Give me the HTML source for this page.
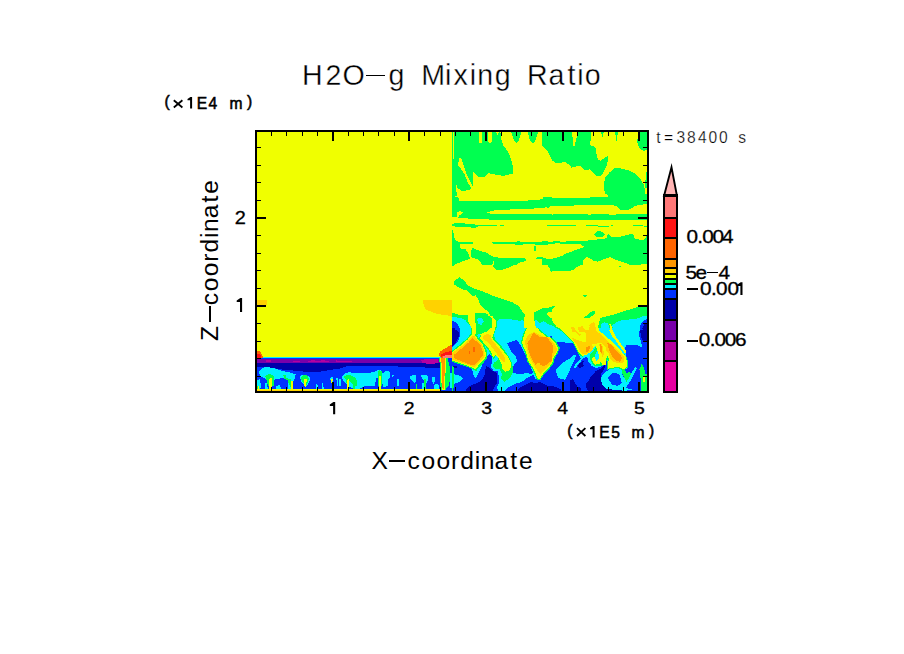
<!DOCTYPE html>
<html><head><meta charset="utf-8"><title>H2O-g Mixing Ratio</title>
<style>
html,body{margin:0;padding:0;background:#fff;}
body{width:904px;height:654px;overflow:hidden;font-family:"Liberation Sans",sans-serif;}
svg{display:block;}
text{font-family:"Liberation Sans",sans-serif;fill:#000;}
.t4{stroke:#fff;stroke-width:0.35px;}
.t2{stroke:#fff;stroke-width:0.25px;}
.b6{stroke:#000;stroke-width:0.55px;}
.b3{stroke:#000;stroke-width:0.3px;}
</style></head><body>
<svg width="904" height="654" viewBox="0 0 904 654">
<rect width="904" height="654" fill="#fff"/>
<g shape-rendering="crispEdges">
<clipPath id="cp"><rect x="256" y="131" width="392" height="261"/></clipPath>
<g clip-path="url(#cp)">
<rect x="256" y="131" width="392" height="261" fill="#F0FF00"/>
<polygon fill="#00FF50" points="452.4,132.0 478.5,132.0 478.5,142.4 480.2,143.5 482.2,143.0 482.5,132.0 487.7,132.0 487.7,141.8 489.7,143.0 491.7,141.8 492.0,132.0 496.3,132.0 496.9,134.9 498.1,135.5 498.6,132.0 500.4,132.0 501.2,138.9 503.2,145.3 507.8,151.6 510.7,157.9 513.0,167.1 513.0,173.5 505.5,175.4 502.1,175.8 495.8,174.6 488.3,173.1 484.8,176.6 478.5,176.6 473.3,172.3 473.5,188.4 465.3,190.7 461.2,190.7 457.2,187.8 454.9,177.5 453.2,177.5 452.4,177.5"/>
<polygon fill="#00FF50" points="511.1,132.0 521.6,132.0 519.9,137.2 518.2,141.8 516.5,143.0 514.7,141.8 513.0,137.8"/>
<polygon fill="#00FF50" points="528.0,132.0 538.3,132.0 536.6,137.2 534.9,141.8 532.9,143.0 530.9,141.8 529.1,137.8"/>
<polygon fill="#00FF50" points="452.4,173.1 454.9,173.1 456.3,182.1 456.6,195.9 452.4,197.0"/>
<polygon fill="#00FF50" points="541.8,132.0 552.0,132.0 552.0,157.9 550.4,155.6 548.1,151.0 542.4,146.4"/>
<polygon fill="#00FF50" points="548.0,132.0 591.2,132.0 590.6,140.7 589.4,144.1 591.7,146.4 594.0,146.4 595.8,148.7 596.3,153.3 598.1,160.2 600.9,160.8 605.5,156.8 607.8,156.2 607.8,161.4 606.1,167.1 603.2,172.9 599.8,176.3 596.9,176.3 593.5,172.9 590.0,169.4 587.1,170.0 584.8,170.6 582.5,167.7 580.8,166.0 575.6,166.6 571.6,167.7 569.3,164.8 565.3,162.3 561.8,162.5 554.9,162.5 552.0,160.2 549.7,155.6 548.0,151.6"/>
<polygon fill="#00FF50" points="601.2,132.0 603.8,132.0 602.1,138.9"/>
<polygon fill="#00FF50" points="615.0,132.0 618.2,132.0 616.5,140.7"/>
<polygon fill="#00FF50" points="638.9,132.0 647.0,132.0 647.0,149.9 643.5,151.0 640.1,148.7 637.8,145.3 637.2,140.7"/>
<polygon fill="#00FF50" points="645.8,171.7 647.0,171.7 647.0,187.8 645.2,187.8"/>
<polygon fill="#00FF50" points="614.2,168.3 620.5,168.3 628.6,170.3 635.5,174.0 640.1,178.6 643.5,184.4 644.7,189.0 645.2,198.0 647.0,199.3 647.0,201.6 607.8,201.6 607.8,194.7 605.5,193.6 604.2,190.1 604.2,182.1 605.0,178.1 609.0,172.9"/>
<polygon fill="#00FF50" points="452.4,195.0 454.9,196.7 458.9,197.9 458.9,200.5 475.6,200.8 509.0,201.1 537.8,200.2 543.5,198.5 552.0,196.7 552.0,205.9 542.4,208.2 526.3,208.8 511.3,209.4 494.0,210.5 486.0,212.3 491.7,214.0 552.0,214.0 552.0,219.7 489.4,219.7 488.9,218.6 468.7,218.6 463.0,218.0 457.2,217.4 452.4,217.4"/>
<polygon fill="#00FF50" points="452.4,223.8 456.1,223.0 463.0,223.2 471.0,224.3 478.5,224.7 496.9,225.1 496.9,225.8 478.5,226.3 475.6,227.5 471.0,227.5 459.5,227.2 456.1,227.2 452.4,225.5"/>
<polygon fill="#00FF50" points="500.4,225.1 503.8,225.1 503.8,225.8 500.4,225.8"/>
<polygon fill="#00FF50" points="547.0,225.1 552.0,225.1 552.0,225.8 547.0,225.8"/>
<polygon fill="#00FF50" points="452.4,230.1 453.2,230.1 454.0,237.0 456.1,240.5 458.9,242.4 472.7,242.4 472.7,243.9 459.5,244.3 459.5,247.4 462.4,249.3 465.3,249.1 468.1,252.5 469.9,257.7 471.6,258.1 461.8,261.5 454.9,264.6 452.4,265.0"/>
<polygon fill="#00FF50" points="472.7,247.9 477.9,250.2 486.0,252.5 494.0,257.1 505.5,258.3 517.0,258.1 525.1,257.7 526.3,260.6 519.3,262.9 515.9,265.0 495.2,265.0 493.5,261.2 492.3,265.0 482.5,265.0 480.2,261.7 477.9,259.4 471.6,257.7 471.0,251.4"/>
<polygon fill="#00FF50" points="491.2,242.2 515.9,242.2 518.2,241.0 520.5,241.6 540.1,242.0 543.5,241.0 552.0,242.0 552.0,244.5 540.1,244.7 528.6,244.3 517.0,244.7 514.7,244.5 494.0,243.9"/>
<polygon fill="#00FF50" points="533.7,245.6 535.5,245.6 535.5,251.4 533.7,251.4"/>
<polygon fill="#00FF50" points="535.5,257.7 540.1,257.1 542.4,257.1 543.5,258.3 552.0,258.9 552.0,265.0 542.4,265.0 541.8,258.9 535.5,258.9"/>
<polygon fill="#00FF50" points="548.0,197.5 574.5,197.9 598.6,197.3 607.8,196.7 607.8,194.1 647.0,194.1 647.0,204.2 640.1,204.8 635.5,205.9 629.7,209.4 622.8,210.5 619.3,209.4 617.0,206.5 612.4,204.8 603.2,204.8 586.0,205.1 571.0,205.6 563.0,205.6 550.3,206.5 548.0,207.9 543.4,206.5 543.4,197.1"/>
<polygon fill="#00FF50" points="548.0,214.0 552.6,214.8 553.8,214.0 586.0,214.0 588.3,214.6 605.5,214.0 610.1,214.6 647.0,214.0 647.0,219.7 548.0,219.7"/>
<polygon fill="#00FF50" points="548.0,225.1 575.6,225.1 575.6,225.8 548.0,225.8"/>
<polygon fill="#00FF50" points="586.0,225.1 597.5,225.3 598.6,226.1 607.8,226.1 613.0,225.1 613.0,225.8 607.8,226.8 598.6,226.8 597.5,226.0 586.0,225.8"/>
<polygon fill="#00FF50" points="633.2,225.1 642.4,225.3 647.0,226.3 647.0,227.2 642.4,226.1 633.2,225.8"/>
<polygon fill="#00FF50" points="594.0,234.1 596.3,231.8 599.8,230.9 603.2,232.4 605.0,234.7 603.2,236.7 598.6,237.0 595.2,236.2"/>
<polygon fill="#00FF50" points="548.0,242.2 554.9,241.3 563.0,241.6 584.8,241.0 591.7,239.9 603.2,239.1 606.7,238.2 606.9,235.3 609.0,234.1 610.7,236.4 614.7,237.3 619.3,237.0 626.3,235.3 630.9,233.9 633.7,234.7 634.3,238.2 637.8,239.3 643.5,240.5 645.8,237.6 647.0,233.0 647.0,265.0 548.0,265.0"/>
<polygon fill="#00FF50" points="452.4,262.0 459.5,262.0 454.9,264.3 452.4,266.6"/>
<polygon fill="#00FF50" points="492.9,266.6 494.0,263.2 495.2,262.0 521.6,262.0 514.7,264.3 510.1,267.2 503.2,269.5 496.3,269.5"/>
<polygon fill="#00FF50" points="542.4,262.0 552.0,262.0 552.0,271.8 550.4,271.2 550.4,266.6 547.0,264.3"/>
<polygon fill="#00FF50" points="459.5,277.0 454.3,281.0 454.3,284.4 458.4,287.3 463.0,289.6 467.0,290.2 471.0,294.8 472.7,296.5 475.6,295.4 477.9,298.8 480.8,305.7 484.8,309.2 488.9,312.1 490.6,316.1 489.4,321.8 487.7,326.4 487.7,332.0 524.5,332.0 523.9,319.5 525.1,314.9 521.6,310.3 518.2,305.7 512.4,302.3 502.1,298.8 495.2,296.5 490.6,294.8 482.5,291.3 475.6,289.0 469.9,286.7 467.0,284.4 465.3,282.1 462.4,279.3"/>
<polygon fill="#00FF50" points="534.3,312.6 538.9,310.3 543.5,308.0 552.0,308.0 552.0,312.6 549.3,311.5 547.0,313.8 548.1,316.1 552.0,318.4 552.0,332.0 536.6,332.0 533.7,317.2"/>
<polygon fill="#00FF50" points="452.4,312.6 459.5,314.9 467.6,314.9 468.1,321.8 472.2,328.7 474.5,332.0 452.4,332.0"/>
<polygon fill="#00FF50" points="474.5,313.2 486.0,313.2 490.0,316.1 489.4,321.8 487.7,326.4 487.1,332.0 476.8,332.0 476.2,326.4 475.0,318.4"/>
<polygon fill="#00FF50" points="548.0,262.0 581.9,262.0 581.4,264.9 575.6,267.8 573.3,270.1 566.4,271.2 561.8,271.2 552.6,270.6 550.3,268.9 548.0,266.0"/>
<polygon fill="#00FF50" points="621.6,262.0 647.0,262.0 647.0,263.7 637.8,264.9 630.9,264.3 623.9,263.7"/>
<polygon fill="#00FF50" points="618.8,266.0 621.1,266.0 621.1,267.2 618.8,267.2"/>
<polygon fill="#00FF50" points="583.1,295.4 587.1,295.1 584.2,297.7"/>
<polygon fill="#00FF50" points="548.0,308.0 552.6,306.3 555.5,306.0 552.6,309.2 548.0,312.1"/>
<polygon fill="#00FF50" points="548.0,316.1 552.0,319.0 553.2,323.0 560.7,329.9 563.0,332.0 548.0,332.0"/>
<polygon fill="#00FF50" points="575.6,321.8 579.1,319.0 580.2,320.7 586.0,316.1 591.7,311.5 595.2,310.3 595.2,313.2 590.6,317.2 586.0,319.5 581.4,320.7 579.1,323.0 576.8,325.3"/>
<polygon fill="#00FF50" points="567.0,326.4 568.7,325.9 571.0,329.9 571.6,332.0 568.7,332.0"/>
<polygon fill="#00FF50" points="598.6,319.0 603.2,317.2 612.4,314.9 622.8,311.5 630.9,309.2 637.8,306.9 647.0,306.9 647.0,332.0 597.5,332.0 598.1,324.1"/>
<polygon fill="#F0FF00" points="459.5,158.1 461.2,158.1 463.0,163.7 465.8,172.3 469.3,179.8 473.5,187.8 473.5,189.0 471.6,189.0 467.6,182.1 465.0,175.2 462.4,170.8 459.3,166.9 457.9,164.6"/>
<polygon fill="#F0FF00" points="452.8,132.0 453.5,132.0 453.5,159.1 452.8,159.1"/>
<polygon fill="#F0FF00" points="572.2,132.0 578.1,132.0 576.2,139.5 574.7,145.8 573.1,146.2"/>
<polygon fill="#F0FF00" points="457.2,212.3 459.5,211.1 463.5,212.3 460.7,214.6 458.9,215.7 458.4,217.4 457.2,217.4"/>
<polygon fill="#F0FF00" points="548.0,243.9 558.4,243.3 568.7,244.5 580.2,244.3 584.8,246.8 576.8,249.7 568.7,252.5 565.3,253.7 561.8,256.0 554.9,258.3 548.0,258.9"/>
<polygon fill="#F0FF00" points="582.5,266.3 583.1,260.6 586.0,257.1 589.4,257.7 592.9,260.6 597.5,261.7 602.1,260.0 607.8,257.7 610.7,257.1 614.7,259.4 621.6,261.7 628.6,264.0 632.0,266.3"/>
<polygon fill="#F0FF00" points="641.2,264.0 647.0,264.0 647.0,266.3 641.2,266.3"/>
<polygon fill="#00F0FF" points="256.0,357.3 441.0,357.3 441.0,358.4 256.0,358.4"/>
<polygon fill="#00F0FF" points="452.4,317.2 457.2,317.5 461.8,318.4 465.3,320.1 468.7,324.1 472.2,328.7 474.5,332.0 452.4,332.0"/>
<polygon fill="#00F0FF" points="497.5,332.0 496.9,321.8 499.8,319.0 505.5,319.5 507.8,318.4 512.4,319.5 519.3,320.7 523.4,320.1 523.9,326.4 524.5,332.0"/>
<polygon fill="#00F0FF" points="534.9,319.5 537.2,320.7 540.1,323.0 543.5,321.3 549.3,324.7 552.0,324.7 552.0,332.0 536.6,332.0 535.5,326.4"/>
<polygon fill="#00F0FF" points="548.0,324.1 553.8,326.4 559.5,332.0 548.0,332.0"/>
<polygon fill="#00F0FF" points="600.9,323.6 604.4,322.4 607.8,323.0 609.0,326.4 610.1,332.0 600.4,332.0"/>
<polygon fill="#00F0FF" points="612.4,325.3 615.9,322.4 621.6,320.1 628.6,319.5 635.5,319.0 643.5,316.1 647.0,315.5 647.0,332.0 613.0,332.0"/>
<polygon fill="#00F0FF" points="452.0,328.0 648.0,328.0 648.0,392.0 452.0,392.0"/>
<polygon fill="#0032FF" points="256.0,358.4 452.0,358.4 452.0,392.0 256.0,392.0"/>
<polygon fill="#0032FF" points="452.4,320.5 454.9,321.8 457.8,325.9 459.3,332.0 452.4,332.0"/>
<polygon fill="#0032FF" points="647.0,319.0 644.1,320.1 640.6,324.7 639.5,328.7 640.1,332.0 647.0,332.0"/>
<polygon fill="#0032FF" points="451.9,321.5 455.1,322.1 458.0,324.4 459.2,329.0 458.6,335.9 456.3,341.6 453.4,346.2 451.9,347.3"/>
<polygon fill="#0032FF" points="452.4,328.0 459.5,328.0 460.1,334.9 458.4,340.7 452.4,347.0"/>
<polygon fill="#0032FF" points="452.4,361.4 463.0,364.8 471.6,368.3 473.9,376.3 475.6,378.6 478.1,373.5 481.4,367.1 483.1,361.9 486.6,357.3 489.2,354.2 492.0,356.8 492.3,361.9 490.8,366.6 493.5,370.8 497.7,371.5 499.2,377.5 499.2,383.2 496.9,387.3 499.2,392.4 452.4,392.4"/>
<polygon fill="#0032FF" points="507.3,343.0 512.4,341.2 517.0,340.1 519.9,344.1 522.8,349.9 526.3,355.6 528.6,361.4 530.9,367.1 533.2,372.9 530.9,374.0 527.4,372.9 521.6,374.0 517.0,374.0 513.0,372.3 512.4,368.3 514.2,364.8 517.0,361.4 515.9,356.8 512.4,353.3 509.6,348.7"/>
<polygon fill="#0032FF" points="517.0,383.2 521.6,382.1 526.3,378.6 530.9,376.3 533.2,374.0 535.5,378.6 538.9,380.4 543.5,374.0 547.0,370.6 552.0,366.0 552.0,392.4 503.2,392.4 507.8,387.8 512.4,385.5"/>
<polygon fill="#0032FF" points="547.0,337.2 552.0,336.1 552.0,339.5 548.1,339.5"/>
<polygon fill="#0032FF" points="548.0,338.9 552.6,339.5 554.9,341.8 563.0,342.4 572.2,343.0 575.6,346.4 577.9,351.0 579.1,355.6 581.4,359.1 587.1,356.8 588.3,361.4 591.7,366.0 596.3,368.3 602.1,366.0 605.5,361.4 607.8,361.4 610.1,363.7 609.0,368.3 612.4,370.6 619.3,370.0 621.6,371.7 628.6,367.7 627.4,362.5 626.3,355.6 625.1,347.6 627.4,345.3 635.5,345.3 640.1,346.4 643.5,348.7 647.0,347.6 647.0,392.4 548.0,392.4"/>
<polygon fill="#0032FF" points="625.5,345.4 636.1,344.9 640.0,346.4 642.9,349.3 646.7,347.3 646.7,391.7 640.0,391.7 638.0,387.8 631.3,385.9 628.4,380.1 631.3,376.3 634.2,370.5 636.1,365.7 633.2,365.7 629.4,368.6 627.4,366.6 627.0,358.9 625.5,352.2"/>
<polygon fill="#0032FF" points="638.5,333.9 640.0,330.0 646.7,330.0 646.7,348.3 642.9,349.3 640.9,341.6"/>
<polygon fill="#0032FF" points="357.6,379.1 359.9,378.6 365.7,379.1 376.0,379.7 376.0,384.3 370.3,384.9 365.7,383.7 359.9,384.3 357.6,382.6"/>
<polygon fill="#7800AA" points="256.0,359.2 441.0,359.2 441.0,363.6 256.0,363.6"/>
<polygon fill="#0000AA" points="256.0,363.4 441.0,362.8 441.0,367.5 425.0,367.5 405.0,366.8 385.0,366.0 347.0,366.0 340.0,368.5 330.0,370.0 318.0,372.0 310.0,372.5 300.0,371.0 285.0,370.0 270.0,367.5 256.0,366.5"/>
<polygon fill="#0000AA" points="647.0,323.0 644.7,324.1 642.4,328.2 642.9,332.0 647.0,332.0"/>
<polygon fill="#0000AA" points="451.9,329.6 456.3,330.1 459.2,332.4 458.6,337.0 455.7,342.8 451.9,346.2"/>
<polygon fill="#0000AA" points="452.4,328.0 454.9,328.0 454.9,332.6 452.4,333.8"/>
<polygon fill="#0000AA" points="486.0,366.0 488.3,367.1 491.7,370.6 496.3,372.3 497.5,377.5 496.9,383.2 494.0,387.8 491.7,392.4 464.1,392.4 468.7,386.7 473.3,384.4 479.1,382.1 482.5,378.6 484.8,374.0 485.4,369.4"/>
<polygon fill="#0000AA" points="519.3,387.8 526.3,384.4 530.9,382.1 535.5,383.2 540.1,382.1 547.0,385.5 552.0,385.5 552.0,392.4 517.0,392.4"/>
<polygon fill="#0000AA" points="452.4,366.0 458.4,366.6 454.9,368.3 452.4,368.3"/>
<polygon fill="#0000AA" points="569.9,380.9 572.2,379.2 574.5,382.1 577.9,387.8 574.5,392.4 571.0,387.8"/>
<polygon fill="#0000AA" points="579.1,363.7 582.5,361.4 583.7,366.0 580.2,368.3 577.9,367.1"/>
<polygon fill="#0000AA" points="548.0,385.5 554.9,386.7 560.7,389.0 560.7,392.4 548.0,392.4"/>
<polygon fill="#0000AA" points="578.9,365.9 581.3,362.7 583.8,361.1 582.9,363.5 580.5,366.7"/>
<polygon fill="#0000AA" points="570.0,382.1 572.4,378.9 574.8,382.1 576.5,386.2 580.5,387.8 581.3,391.9 570.0,391.9"/>
<polygon fill="#0000AA" points="640.0,330.0 646.7,330.0 646.7,342.5 642.9,341.6 640.9,335.8"/>
<polygon fill="#0000AA" points="588.9,380.1 591.8,375.3 595.6,371.4 600.5,368.6 605.3,363.7 606.7,361.8 604.3,368.6 601.4,373.4 600.5,377.2 604.3,381.1 610.1,384.0 616.8,386.9 623.6,388.8 624.6,391.7 588.9,391.7 586.0,387.8 586.0,384.0"/>
<polygon fill="#7800AA" points="430.0,358.7 439.9,358.7 439.4,362.7 430.0,362.7"/>
<polygon fill="#00F0FF" points="452.4,374.0 460.7,375.8 463.0,378.6 459.5,382.1 454.9,383.2 453.2,387.8 452.4,390.7"/>
<polygon fill="#00F0FF" points="556.1,371.7 556.6,368.9 559.5,366.0 563.0,362.5 567.6,359.6 571.0,357.9 573.9,355.0 576.2,355.0 573.9,361.4 571.0,367.1 568.1,374.0 565.3,379.8 561.8,379.2 557.8,377.5"/>
<polygon fill="#00F0FF" points="574.0,367.6 575.7,363.5 578.9,360.3 580.5,358.6 582.1,359.4 579.7,362.7 577.3,365.1 575.7,368.4"/>
<polygon fill="#00F0FF" points="595.6,350.2 597.1,349.3 597.6,356.0 596.1,357.0"/>
<polygon fill="#00F0FF" points="600.9,378.9 602.9,374.3 606.0,371.4 611.1,368.6 617.8,368.6 620.7,370.5 623.9,378.2 628.9,375.9 632.8,370.9 634.9,366.9 636.8,367.9 633.8,374.9 629.9,381.9 625.9,387.8 632.8,389.9 624.8,390.8 614.9,389.9 606.0,388.8 602.0,384.8"/>
<polygon fill="#00F0FF" points="258.8,371.1 263.4,367.6 268.0,367.0 276.0,368.8 282.9,371.1 291.0,372.8 295.6,374.5 294.4,379.1 292.1,383.7 288.7,386.0 287.5,380.3 282.9,378.0 276.0,379.1 272.6,380.3 270.3,378.0 266.8,379.1 263.4,378.0 259.9,375.7"/>
<polygon fill="#00F0FF" points="299.6,376.8 302.5,374.5 305.9,374.5 309.4,376.8 310.0,380.3 308.2,383.7 306.5,386.0 303.6,383.7 301.3,381.4"/>
<polygon fill="#00F0FF" points="341.6,376.8 345.1,373.4 349.7,372.2 354.3,373.4 357.0,374.5 357.0,388.3 352.0,388.3 348.5,386.0 345.1,382.6 342.8,380.3"/>
<polygon fill="#00F0FF" points="330.1,378.0 332.4,376.8 333.6,381.4 331.3,382.6"/>
<polygon fill="#00F0FF" points="336.4,378.0 337.6,378.0 338.2,386.0 336.8,386.0"/>
<polygon fill="#00F0FF" points="339.3,379.1 340.5,379.1 341.0,386.0 339.5,386.0"/>
<polygon fill="#00F0FF" points="257.4,380.3 259.9,379.1 261.1,386.0 259.9,389.7 257.4,389.7"/>
<polygon fill="#00F0FF" points="264.5,383.7 266.8,382.6 268.0,389.7 264.5,389.7"/>
<polygon fill="#00F0FF" points="276.0,386.0 279.5,384.9 281.8,389.7 276.0,389.7"/>
<polygon fill="#00F0FF" points="287.5,386.0 289.8,383.7 291.0,389.7 287.5,389.7"/>
<polygon fill="#00F0FF" points="315.7,384.3 317.4,383.7 318.0,389.7 316.1,389.7"/>
<polygon fill="#00F0FF" points="321.5,383.7 323.2,383.2 323.8,389.7 321.8,389.7"/>
<polygon fill="#B400A0" points="265.7,360.3 271.4,359.8 271.4,361.9 268.0,362.1 265.7,361.4"/>
<polygon fill="#B400A0" points="293.3,361.1 300.2,361.1 300.2,361.9 293.3,361.9"/>
<polygon fill="#B400A0" points="308.2,360.8 312.8,360.3 317.4,360.8 322.0,360.4 328.9,360.7 328.9,361.6 308.2,361.9"/>
<polygon fill="#B400A0" points="335.9,360.3 340.5,360.9 345.1,360.5 352.0,360.9 352.0,361.9 335.9,361.6"/>
<polygon fill="#B400A0" points="420.9,360.1 426.6,359.0 438.2,359.0 438.2,362.4 433.6,364.2 426.6,363.6 422.0,362.4"/>
<polygon fill="#00F0FF" points="353.0,373.4 359.9,373.4 368.0,372.8 373.7,372.2 377.7,369.9 380.6,370.5 382.9,373.4 386.4,370.5 389.2,371.1 390.4,374.5 389.8,378.0 387.5,379.1 387.5,386.0 382.9,387.2 381.8,379.1 376.0,378.0 374.9,386.0 364.5,386.0 357.6,389.7 353.0,389.7"/>
<polygon fill="#00F0FF" points="410.0,376.8 412.8,374.5 415.7,374.5 416.3,379.1 415.1,383.7 412.8,381.4 410.5,379.1"/>
<polygon fill="#00F0FF" points="420.9,375.7 424.3,374.5 427.8,375.7 428.4,379.1 426.6,382.6 423.8,380.3 422.0,378.0"/>
<polygon fill="#00F0FF" points="432.4,376.8 434.7,376.8 435.3,380.3 433.6,383.7 431.8,380.3"/>
<polygon fill="#00F0FF" points="392.1,374.5 393.9,375.7 392.1,378.0"/>
<polygon fill="#00F0FF" points="396.7,379.1 398.5,378.6 399.0,386.0 397.3,386.0"/>
<polygon fill="#00F0FF" points="422.0,383.7 424.3,382.6 426.6,389.7 422.0,389.7"/>
<polygon fill="#00F0FF" points="433.6,384.9 438.2,383.7 439.3,389.7 433.6,389.7"/>
<polygon fill="#00F0FF" points="449.7,373.6 452.0,372.4 452.0,388.3 449.5,388.3"/>
<polygon fill="#B400A0" points="430.0,358.9 438.4,358.9 438.0,361.4 430.0,361.8"/>
<polygon fill="#0032FF" points="608.0,378.2 611.1,373.9 615.9,372.4 619.7,375.3 621.9,382.8 617.9,385.8 611.9,384.8"/>
<polygon fill="#00FF50" points="452.4,366.0 453.8,367.1 454.3,374.0 453.8,383.2 453.2,392.4 452.4,392.4"/>
<polygon fill="#00FF50" points="452.4,350.4 458.9,345.3 467.0,338.4 470.4,334.3 471.6,328.0 476.8,328.0 476.5,334.3 479.1,338.9 483.9,343.5 486.9,351.0 487.4,357.3 483.7,362.5 479.1,367.1 476.2,371.2 472.2,368.9 463.0,365.4 452.4,361.9"/>
<polygon fill="#00FF50" points="498.6,357.9 496.3,361.4 494.0,362.5 492.9,366.0 494.0,368.3 499.8,369.4 502.1,374.0 500.9,378.6 504.4,382.1 509.0,378.6 512.4,374.0 513.0,368.3 511.9,362.5 509.0,356.8 504.4,349.9 499.8,344.1 495.2,339.5 494.0,334.9 496.3,328.0 490.6,328.0 480.2,333.8 479.1,338.4 482.5,343.5 486.0,347.0 489.4,351.6 491.5,356.2 493.8,359.1 495.4,355.6"/>
<polygon fill="#00FF50" points="521.6,339.5 523.9,331.5 526.3,328.0 538.9,328.0 541.2,330.9 548.1,336.6 552.0,341.8 552.0,363.7 548.7,368.3 544.7,373.5 540.6,379.8 537.2,380.4 534.3,373.5 532.0,368.3 527.4,361.4 525.1,353.3 522.8,347.6 521.1,343.0"/>
<polygon fill="#00FF50" points="540.0,336.8 550.5,336.8 556.2,341.6 559.9,348.1 557.4,353.8 555.0,357.4 553.4,363.5 550.1,368.0 546.5,371.6 542.4,375.7 540.0,376.5"/>
<polygon fill="#00FF50" points="556.0,325.7 559.5,327.1 564.1,331.0 568.8,335.7 573.7,340.5 576.9,346.0 579.2,351.3 582.7,355.0 582.7,356.7 580.8,356.3 577.7,352.9 575.4,347.4 572.4,342.0 567.6,337.4 563.0,332.7 558.7,329.0 556.0,327.9"/>
<polygon fill="#00FF50" points="575.4,321.9 577.7,319.5 580.0,319.9 578.5,322.6 576.5,325.0"/>
<polygon fill="#00FF50" points="581.6,319.2 590.1,318.0 589.3,318.8 582.3,320.3"/>
<polygon fill="#00FF50" points="567.2,326.5 569.9,326.1 571.5,328.8 575.4,333.5 577.7,335.8 576.5,336.6 573.0,333.5 569.2,329.6"/>
<polygon fill="#00FF50" points="600.2,318.0 626.0,318.0 626.0,319.5 618.0,319.9 610.2,321.9 605.6,321.1 602.5,322.6 600.3,325.0 599.4,322.6"/>
<polygon fill="#00FF50" points="624.6,354.1 627.4,358.9 628.1,367.1 625.0,369.7 621.2,369.7 618.3,367.8 613.0,368.7 607.4,369.7 606.7,363.7 608.0,358.9 606.2,361.8 602.9,358.9 599.5,354.6"/>
<polygon fill="#00FF50" points="589.9,355.1 592.7,352.2 595.6,347.3 597.6,349.3 595.6,354.1 593.7,358.9 595.6,362.8 599.5,361.8 602.4,358.0 605.3,359.9 606.2,362.8 602.4,366.6 598.5,365.7 594.7,366.6 591.8,362.8 589.9,358.9"/>
<polygon fill="#00FF50" points="639.5,369.5 641.9,363.3 643.8,367.6 645.3,373.4 646.7,374.3 646.7,391.7 640.5,391.7 641.4,382.0 640.0,375.3"/>
<polygon fill="#00FF50" points="621.7,370.5 624.6,369.5 626.5,373.4 629.4,371.4 631.3,373.4 628.4,379.2 626.5,382.0 624.6,378.2 622.6,374.3"/>
<polygon fill="#00FF50" points="265.1,375.9 269.1,373.9 273.7,375.7 273.5,386.0 268.0,386.0 266.8,380.3"/>
<polygon fill="#00FF50" points="282.9,374.5 285.2,374.5 286.4,378.0 291.0,379.1 292.1,383.7 291.6,388.3 289.8,386.0 287.5,380.3 284.6,379.1"/>
<polygon fill="#00FF50" points="300.8,378.0 303.1,375.1 306.5,375.1 308.8,378.0 308.2,382.0 306.5,384.9 305.4,387.2 304.2,384.3 301.9,381.4"/>
<polygon fill="#00FF50" points="343.9,376.8 347.4,374.5 352.0,375.7 355.4,378.0 357.0,380.3 357.0,386.0 354.3,386.0 352.0,383.7 349.7,380.3 348.5,386.0 346.8,386.0 346.2,380.3"/>
<polygon fill="#00FF50" points="257.4,386.0 258.8,385.5 259.3,389.7 257.4,389.7"/>
<polygon fill="#00FF50" points="353.0,378.0 355.3,379.1 355.9,383.7 354.2,389.7 353.0,389.7"/>
<polygon fill="#00FF50" points="377.7,371.6 379.7,370.1 381.8,371.6 382.0,386.0 377.7,386.0"/>
<polygon fill="#00FF50" points="424.3,379.1 425.7,379.1 426.1,389.7 424.6,389.7"/>
<polygon fill="#00FF50" points="415.7,383.7 416.9,383.7 417.0,389.7 415.8,389.7"/>
<polygon fill="#00FF50" points="439.4,358.1 448.1,358.1 448.1,382.0 446.0,390.4 440.1,390.4 439.9,373.6"/>
<polygon fill="#00FF50" points="446.4,360.2 448.5,361.8 450.0,367.7 450.2,380.3 448.1,387.1 446.4,387.1 446.0,373.6"/>
<polygon fill="#00FF50" points="474.5,313.1 487.6,313.8 491.4,317.5 493.9,322.5 491.4,327.6 486.4,331.3 480.1,333.8 476.3,335.1 475.7,325.1"/>
<polygon fill="#00F0FF" points="477.0,318.8 481.4,317.5 483.9,321.3 481.4,325.1 478.2,323.8"/>
<polygon fill="#F0FF00" points="467.6,313.1 474.5,313.1 475.1,322.5 476.0,333.8 473.8,335.7 472.0,326.3 468.8,318.8"/>
<polygon fill="#F0FF00" points="487.6,315.0 492.7,316.3 495.4,321.3 494.8,327.6 492.0,333.8 486.4,335.1 482.6,337.0 480.1,334.5 486.4,331.6 491.4,327.8 493.7,322.5 491.4,317.8"/>
<polygon fill="#F0FF00" points="492.3,317.2 494.0,317.8 496.3,321.3 495.8,326.4 494.0,331.0 492.3,332.0 491.7,326.4"/>
<polygon fill="#F0FF00" points="609.6,324.1 611.1,324.1 612.0,332.0 610.7,332.0"/>
<polygon fill="#F0FF00" points="452.4,351.6 459.5,346.4 467.6,339.5 471.6,334.9 472.7,328.0 475.6,328.0 475.0,334.9 477.9,339.5 482.5,344.1 485.4,351.0 486.0,356.8 482.5,361.4 477.9,366.0 475.6,369.4 472.7,367.7 463.0,364.2 452.4,360.8"/>
<polygon fill="#F0FF00" points="481.4,334.9 486.0,332.6 490.6,330.3 491.7,328.0 495.2,328.0 494.0,332.6 492.3,337.2 494.0,340.7 498.6,345.3 503.2,351.0 507.8,356.8 510.7,362.5 511.3,366.0 509.0,370.6 505.5,371.7 502.7,369.4 501.5,363.7 498.6,357.9 495.2,354.5 494.0,357.9 492.3,355.6 490.6,351.0 487.1,346.4 483.7,343.0 480.2,338.4"/>
<polygon fill="#F0FF00" points="522.8,339.5 525.1,331.5 527.4,328.0 537.8,328.0 540.1,331.5 547.0,337.2 552.0,343.0 552.0,362.5 548.1,367.1 543.5,372.9 540.1,378.6 537.8,379.2 535.5,372.9 533.2,368.3 528.6,361.4 526.3,353.3 523.9,347.6 522.2,343.0"/>
<polygon fill="#F0FF00" points="540.0,336.8 549.7,336.8 555.0,342.4 558.6,348.9 556.2,353.8 553.8,357.4 552.2,363.1 549.1,367.4 545.7,370.8 542.0,373.2 540.0,374.0"/>
<polygon fill="#F0FF00" points="556.0,318.0 600.2,318.0 599.0,322.6 598.2,327.3 599.4,331.2 602.5,335.8 606.3,340.5 610.2,343.6 614.9,347.4 619.5,351.3 624.2,355.2 626.0,356.7 626.0,365.0 610.2,365.0 609.4,358.3 607.9,354.4 606.3,358.3 605.6,365.0 602.5,365.0 599.4,358.3 598.2,352.9 596.3,347.4 594.7,345.1 593.2,349.0 590.9,352.1 587.0,354.4 582.7,356.0 581.6,355.2 578.5,352.1 576.1,346.7 573.0,341.2 568.4,336.6 563.7,331.9 559.1,328.1 556.0,326.9"/>
<polygon fill="#F0FF00" points="609.4,324.2 611.0,324.2 612.5,329.6 616.4,337.4 621.8,345.1 626.0,350.5 626.0,352.5 621.1,346.7 615.6,339.7 611.8,333.5 609.8,328.1"/>
<polygon fill="#F0FF00" points="586.0,330.0 598.5,330.0 605.3,335.8 613.0,342.5 618.8,348.3 624.6,355.1 626.5,359.9 627.0,366.6 624.6,368.6 621.7,368.6 618.8,366.6 613.0,367.6 608.2,368.6 607.7,363.7 609.1,358.9 606.7,355.1 605.8,358.9 603.3,358.0 600.5,354.1 598.5,348.3 595.6,346.4 591.8,347.3 588.9,352.2 586.0,353.1"/>
<polygon fill="#F0FF00" points="609.1,330.0 612.0,330.0 614.9,335.8 619.7,342.5 624.6,349.3 626.0,353.1 624.6,352.7 619.7,346.4 614.9,339.6 611.1,334.8"/>
<polygon fill="#F0FF00" points="591.8,358.0 594.7,357.0 596.6,360.8 598.5,358.9 600.5,358.0 601.4,359.9 599.5,363.7 595.6,364.7 592.7,361.8"/>
<polygon fill="#F0FF00" points="642.9,376.3 644.8,376.3 644.8,382.0 642.9,382.0"/>
<polygon fill="#F0FF00" points="269.1,378.6 272.0,378.0 272.0,389.7 269.1,389.7"/>
<polygon fill="#F0FF00" points="290.7,381.4 293.0,380.9 293.0,389.7 291.0,389.7"/>
<polygon fill="#F0FF00" points="303.6,379.4 306.6,379.4 306.4,385.5 305.0,387.6 304.1,385.5"/>
<polygon fill="#F0FF00" points="346.8,379.7 349.2,379.1 349.2,389.7 347.0,389.7"/>
<polygon fill="#F0FF00" points="331.3,379.1 332.6,379.1 332.4,382.6 331.3,382.6"/>
<polygon fill="#F0FF00" points="257.6,385.5 258.5,385.5 258.5,389.7 257.6,389.7"/>
<polygon fill="#F0FF00" points="378.5,376.2 380.8,375.7 380.8,389.7 378.5,389.7"/>
<polygon fill="#F0FF00" points="257.0,389.0 441.0,389.0 441.0,390.2 257.0,390.2"/>
<polygon fill="#F0FF00" points="440.3,358.3 446.1,358.3 445.5,373.6 444.7,390.4 441.8,390.4 441.1,373.6"/>
<polygon fill="#FFD200" points="257.0,300.0 267.0,300.0 267.0,305.0 257.0,305.0"/>
<polygon fill="#FFD200" points="422.5,300.1 451.9,300.1 451.9,316.9 449.4,315.8 442.5,314.7 435.6,313.5 429.9,311.2 425.9,309.5 424.2,306.1 423.0,302.0"/>
<polygon fill="#FFD200" points="571.0,327.6 572.7,327.0 575.6,332.0 572.7,332.0"/>
<polygon fill="#FFD200" points="577.9,327.0 581.4,326.4 584.8,332.0 579.1,332.0"/>
<polygon fill="#FFD200" points="589.4,324.7 594.0,321.8 595.4,326.4 596.9,332.0 590.0,332.0"/>
<polygon fill="#FFD200" points="452.4,352.7 460.1,347.6 468.1,340.7 472.2,336.1 474.5,336.1 477.3,340.1 481.9,344.7 484.2,351.0 484.6,356.2 481.4,360.2 476.8,364.8 473.9,367.1 463.0,363.1 452.4,359.6"/>
<polygon fill="#FFD200" points="482.5,336.1 487.1,333.8 490.6,334.9 491.7,339.5 496.3,345.3 500.9,351.0 504.4,356.8 505.5,361.4 503.2,362.5 500.9,359.1 497.5,354.5 494.0,349.9 490.6,345.3 487.1,341.8 483.1,338.9"/>
<polygon fill="#FFD200" points="525.1,340.7 527.4,336.1 530.9,333.2 534.3,332.0 540.1,334.9 547.0,338.9 552.0,344.7 552.0,361.4 547.5,366.0 543.5,370.6 540.1,374.0 536.6,369.4 533.7,364.8 530.3,359.1 528.0,352.2 525.7,346.4"/>
<polygon fill="#FFD200" points="540.0,336.8 548.1,336.8 553.8,343.2 556.2,347.3 557.4,349.7 555.0,353.8 552.6,357.0 550.9,362.7 548.1,366.7 544.9,369.6 541.6,371.2 540.0,371.6"/>
<polygon fill="#FFD200" points="572.3,328.1 573.8,327.3 576.1,330.4 579.2,333.5 581.6,335.0 579.2,335.8 576.1,332.7 573.4,330.4"/>
<polygon fill="#FFD200" points="578.5,327.3 582.3,326.1 584.7,329.6 588.5,332.7 587.0,333.5 583.1,331.2 580.0,328.8"/>
<polygon fill="#FFD200" points="589.3,327.3 590.9,323.4 594.0,322.3 594.7,325.7 596.3,330.4 600.2,335.0 604.0,338.9 607.1,341.2 610.2,343.6 614.9,348.2 620.3,352.9 624.2,356.7 624.2,361.4 621.1,363.7 618.0,361.4 613.3,356.7 609.4,351.3 607.1,347.4 605.6,343.6 602.5,342.0 599.4,341.2 596.3,342.0 593.2,343.6 590.9,342.0 588.5,339.7 590.1,337.4 592.4,336.6 590.9,333.5 589.3,330.4"/>
<polygon fill="#FFD200" points="571.5,337.4 574.6,338.9 579.2,340.5 583.9,342.0 588.5,342.8 591.6,344.3 593.2,346.7 592.4,349.8 590.1,352.1 587.0,353.6 583.1,354.4 580.8,352.1 578.5,348.2 576.1,343.6 573.4,340.5"/>
<polygon fill="#FFD200" points="599.4,344.3 601.7,343.6 603.3,349.0 604.0,354.4 602.5,356.7 600.9,352.9 599.8,349.0"/>
<polygon fill="#FFD200" points="586.0,330.0 595.6,330.0 603.3,336.7 609.1,342.5 614.9,347.3 621.7,355.1 624.6,359.9 622.6,362.8 617.8,362.8 613.0,361.8 610.1,358.9 609.1,354.1 606.7,351.2 605.3,346.4 602.4,343.5 598.5,342.5 595.6,344.5 591.8,343.5 586.0,344.5"/>
<polygon fill="#FFD200" points="257.0,390.0 441.0,390.0 441.0,391.2 257.0,391.2"/>
<polygon fill="#FF9600" points="453.8,355.0 460.7,349.3 468.7,342.4 472.7,337.8 476.2,341.2 480.8,345.3 482.5,351.0 482.5,355.6 479.6,359.6 475.0,364.8 472.7,365.4 463.0,361.9 453.8,358.1"/>
<polygon fill="#FF9600" points="527.4,343.0 529.7,339.5 533.2,332.6 536.6,334.9 547.0,340.7 552.0,346.4 552.0,360.2 547.0,364.8 543.5,366.0 538.9,362.5 535.5,364.8 533.2,361.4 530.9,356.8 528.6,351.0"/>
<polygon fill="#FF9600" points="540.0,336.8 546.5,336.8 552.2,344.1 553.4,348.1 553.0,352.2 551.3,356.2 549.7,361.1 547.3,364.3 543.2,365.9 540.0,364.3"/>
<polygon fill="#FF9600" points="587.0,346.7 589.3,345.9 590.1,348.2 588.5,350.5 587.0,349.8"/>
<polygon fill="#FF9600" points="599.4,344.7 601.3,344.3 602.1,349.0 601.7,352.5 600.2,350.5"/>
<polygon fill="#FF9600" points="607.9,343.6 610.2,344.3 614.9,349.0 619.5,353.6 621.8,357.5 621.1,361.4 618.0,360.6 614.1,356.7 610.2,352.1 608.7,348.2"/>
<polygon fill="#FF9600" points="607.2,342.5 611.1,344.5 616.8,351.2 620.7,358.0 619.7,361.8 615.9,360.8 612.0,356.0 608.7,349.3"/>
<polygon fill="#FF9600" points="599.5,344.5 601.4,346.4 601.9,353.1 600.5,352.2"/>
<polygon fill="#FF9600" points="586.0,346.4 589.9,347.3 588.9,351.2 586.0,352.2"/>
<polygon fill="#FF9600" points="441.3,358.1 445.1,358.1 444.7,373.6 443.9,383.7 443.4,390.4 442.6,390.4 442.2,377.8"/>
<polygon fill="#FF6400" points="469.3,351.0 470.4,351.0 470.4,353.9 469.3,353.9"/>
<polygon fill="#FF6400" points="472.7,347.0 475.0,347.0 475.0,351.6 472.7,351.6"/>
<polygon fill="#FF6400" points="257.4,350.9 259.9,351.5 262.2,354.4 262.8,357.8 257.4,358.2"/>
<polygon fill="#FF6400" points="438.4,355.1 440.1,351.8 443.4,349.2 446.8,347.6 452.0,344.2 452.0,358.1 442.6,358.1 440.1,357.2"/>
<polygon fill="#FF1414" points="257.4,354.4 259.7,354.4 261.1,356.3 260.6,357.8 257.4,357.8"/>
<polygon fill="#FF1414" points="440.5,354.7 444.3,352.6 448.5,351.8 452.0,350.5 452.0,355.1 446.8,354.7 443.4,356.0 441.3,356.8"/>
<polygon fill="#FF7878" points="442.6,356.1 446.8,355.0 452.0,354.5 452.0,358.1 442.6,358.1"/>
</g>
<!-- frame -->
<rect x="256" y="131" width="392" height="261" fill="none" stroke="#000" stroke-width="2"/>
<g fill="#000">
<rect x="270.8" y="132" width="1" height="4"/>
<rect x="270.8" y="387" width="1" height="4"/>
<rect x="286.2" y="132" width="1" height="4"/>
<rect x="286.2" y="387" width="1" height="4"/>
<rect x="301.5" y="132" width="1" height="4"/>
<rect x="301.5" y="387" width="1" height="4"/>
<rect x="316.8" y="132" width="1" height="4"/>
<rect x="316.8" y="387" width="1" height="4"/>
<rect x="331.6" y="132" width="2" height="9"/>
<rect x="331.6" y="382" width="2" height="9"/>
<rect x="347.5" y="132" width="1" height="4"/>
<rect x="347.5" y="387" width="1" height="4"/>
<rect x="362.8" y="132" width="1" height="4"/>
<rect x="362.8" y="387" width="1" height="4"/>
<rect x="378.1" y="132" width="1" height="4"/>
<rect x="378.1" y="387" width="1" height="4"/>
<rect x="393.5" y="132" width="1" height="4"/>
<rect x="393.5" y="387" width="1" height="4"/>
<rect x="408.3" y="132" width="2" height="9"/>
<rect x="408.3" y="382" width="2" height="9"/>
<rect x="424.1" y="132" width="1" height="4"/>
<rect x="424.1" y="387" width="1" height="4"/>
<rect x="439.5" y="132" width="1" height="4"/>
<rect x="439.5" y="387" width="1" height="4"/>
<rect x="454.8" y="132" width="1" height="4"/>
<rect x="454.8" y="387" width="1" height="4"/>
<rect x="470.1" y="132" width="1" height="4"/>
<rect x="470.1" y="387" width="1" height="4"/>
<rect x="484.9" y="132" width="2" height="9"/>
<rect x="484.9" y="382" width="2" height="9"/>
<rect x="500.8" y="132" width="1" height="4"/>
<rect x="500.8" y="387" width="1" height="4"/>
<rect x="516.1" y="132" width="1" height="4"/>
<rect x="516.1" y="387" width="1" height="4"/>
<rect x="531.4" y="132" width="1" height="4"/>
<rect x="531.4" y="387" width="1" height="4"/>
<rect x="546.8" y="132" width="1" height="4"/>
<rect x="546.8" y="387" width="1" height="4"/>
<rect x="561.6" y="132" width="2" height="9"/>
<rect x="561.6" y="382" width="2" height="9"/>
<rect x="577.4" y="132" width="1" height="4"/>
<rect x="577.4" y="387" width="1" height="4"/>
<rect x="592.8" y="132" width="1" height="4"/>
<rect x="592.8" y="387" width="1" height="4"/>
<rect x="608.1" y="132" width="1" height="4"/>
<rect x="608.1" y="387" width="1" height="4"/>
<rect x="623.4" y="132" width="1" height="4"/>
<rect x="623.4" y="387" width="1" height="4"/>
<rect x="638.2" y="132" width="2" height="9"/>
<rect x="638.2" y="382" width="2" height="9"/>
<rect x="257" y="375.9" width="4" height="1"/>
<rect x="643" y="375.9" width="4" height="1"/>
<rect x="257" y="358.3" width="4" height="1"/>
<rect x="643" y="358.3" width="4" height="1"/>
<rect x="257" y="340.7" width="4" height="1"/>
<rect x="643" y="340.7" width="4" height="1"/>
<rect x="257" y="323.1" width="4" height="1"/>
<rect x="643" y="323.1" width="4" height="1"/>
<rect x="257" y="305.0" width="9" height="2"/>
<rect x="638" y="305.0" width="9" height="2"/>
<rect x="257" y="287.9" width="4" height="1"/>
<rect x="643" y="287.9" width="4" height="1"/>
<rect x="257" y="270.3" width="4" height="1"/>
<rect x="643" y="270.3" width="4" height="1"/>
<rect x="257" y="252.7" width="4" height="1"/>
<rect x="643" y="252.7" width="4" height="1"/>
<rect x="257" y="235.1" width="4" height="1"/>
<rect x="643" y="235.1" width="4" height="1"/>
<rect x="257" y="217.0" width="9" height="2"/>
<rect x="638" y="217.0" width="9" height="2"/>
<rect x="257" y="199.9" width="4" height="1"/>
<rect x="643" y="199.9" width="4" height="1"/>
<rect x="257" y="182.3" width="4" height="1"/>
<rect x="643" y="182.3" width="4" height="1"/>
<rect x="257" y="164.7" width="4" height="1"/>
<rect x="643" y="164.7" width="4" height="1"/>
<rect x="257" y="147.1" width="4" height="1"/>
<rect x="643" y="147.1" width="4" height="1"/>
</g>
<!-- colorbar -->
<rect x="664" y="196" width="13" height="22" fill="#FF7878"/>
<rect x="664" y="218" width="13" height="20" fill="#FF1414"/>
<rect x="664" y="238" width="13" height="20" fill="#FF6400"/>
<rect x="664" y="258" width="13" height="10" fill="#FF9600"/>
<rect x="664" y="268" width="13" height="6" fill="#FFD200"/>
<rect x="664" y="274" width="13" height="5" fill="#F0FF00"/>
<rect x="664" y="279" width="13" height="5" fill="#00FF50"/>
<rect x="664" y="284" width="13" height="5" fill="#00F0FF"/>
<rect x="664" y="289" width="13" height="10" fill="#0032FF"/>
<rect x="664" y="299" width="13" height="21" fill="#0000AA"/>
<rect x="664" y="320" width="13" height="21" fill="#7800AA"/>
<rect x="664" y="341" width="13" height="20" fill="#B400A0"/>
<rect x="664" y="361" width="13" height="31" fill="#E600A0"/>
<rect x="664" y="195.0" width="13" height="2" fill="#000"/>
<rect x="664" y="217.0" width="13" height="2" fill="#000"/>
<rect x="664" y="237.0" width="13" height="2" fill="#000"/>
<rect x="664" y="257.5" width="13" height="2" fill="#000"/>
<rect x="664" y="267.0" width="13" height="2" fill="#000"/>
<rect x="664" y="273.0" width="13" height="2" fill="#000"/>
<rect x="664" y="278.0" width="13" height="2" fill="#000"/>
<rect x="664" y="283.0" width="13" height="2" fill="#000"/>
<rect x="664" y="288.0" width="13" height="2" fill="#000"/>
<rect x="664" y="298.0" width="13" height="2" fill="#000"/>
<rect x="664" y="319.0" width="13" height="2" fill="#000"/>
<rect x="664" y="340.0" width="13" height="2" fill="#000"/>
<rect x="664" y="360.0" width="13" height="2" fill="#000"/>
<polygon points="664,196 671.5,167.2 677,196" fill="#FFB4B4" stroke="#000" stroke-width="1.9" stroke-linejoin="miter" stroke-miterlimit="10" shape-rendering="auto"/>
<rect x="664" y="195" width="13" height="197" fill="none" stroke="#000" stroke-width="2"/>
</g>
<g transform="translate(0,84.6) scale(1.000,1)"><text class="t4" y="0.0" font-size="28.6" x="301.9 325.4 342.4 388.6 421.3 445.0 453.5 469.8 477.2 494.8 526.9 548.4 567.4 577.3 584.7">H2OgMixingRatio</text></g>
<rect x="365.8" y="74.5" width="19.5" height="1.7" fill="#000" shape-rendering="crispEdges"/>
<g transform="translate(0,108.6) scale(1.000,1)"><text class="b6" y="0.0" font-size="15.6" x="196.7 208.4 229.5">E4m</text></g>
<g transform="translate(0,107.0) scale(1.000,1)"><text class="b6" y="0.0" font-size="15.6" x="164.6 246.9">()</text></g>
<g transform="translate(0,437.6) scale(1.000,1)"><text class="b6" y="0.0" font-size="15.6" x="599.2 611.2 631.4">E5m</text></g>
<g transform="translate(0,436.0) scale(1.000,1)"><text class="b6" y="0.0" font-size="15.6" x="567.2 649.1">()</text></g>
<g transform="translate(0,142.5) scale(1.000,1)"><text class="t2" y="0.0" font-size="15.6" x="656.2 664.0 676.4 687.1 697.9 708.6 719.1 738.2">t=38400s</text></g>
<g transform="translate(0,468.6) scale(1.000,1)"><text class="ax" y="0.0" font-size="24.6" x="371.5 407.5 421.5 436.4 451.0 460.3 474.7 480.7 494.4 510.2 518.9">Xcoordinate</text></g>
<rect x="389.1" y="459.8" width="15.9" height="1.9" fill="#000" shape-rendering="crispEdges"/>
<g transform="translate(218.3,339.3) rotate(-90)"><g transform="translate(0,0.0) scale(1.000,1)"><text class="ax" y="0.0" font-size="24.6" x="-1.7 34.1 48.1 63.0 77.6 86.9 101.3 107.3 121.0 136.8 145.5">Zcoordinate</text></g><rect x="17.4" y="-8.9" width="15.6" height="1.9" fill="#000" shape-rendering="crispEdges"/></g>
<polygon fill="#000" points="335.2,402.0 335.2,414.2 333.1,414.2 333.1,405.9 329.8,405.9 329.8,404.5 333.4,402.0"/>
<g transform="translate(0,414.3) scale(1.120,1)"><text class="b3" y="0.0" font-size="17.4" x="360.6">2</text></g>
<g transform="translate(0,414.3) scale(1.120,1)"><text class="b3" y="0.0" font-size="17.4" x="429.7">3</text></g>
<g transform="translate(0,414.3) scale(1.120,1)"><text class="b3" y="0.0" font-size="17.4" x="497.5">4</text></g>
<g transform="translate(0,414.3) scale(1.120,1)"><text class="b3" y="0.0" font-size="17.4" x="566.0">5</text></g>
<g transform="translate(0,223.8) scale(1.120,1)"><text class="b3" y="0.0" font-size="17.8" x="209.5">2</text></g>
<polygon fill="#000" points="242.1,298.0 242.1,311.9 240.0,311.9 240.0,301.9 236.7,301.9 236.7,300.5 240.3,298.0"/>
<g transform="translate(0,243.2) scale(1.180,1)"><text class="b3" y="0.0" font-size="17.6" x="581.8 590.8 595.2 603.8 611.8">0.004</text></g>
<g transform="translate(0,279.0) scale(1.180,1)"><text class="b3" y="0.0" font-size="17.6" x="580.9 589.4 608.8">5e4</text></g>
<rect x="706.9" y="271.6" width="10.9" height="1.7" fill="#000" shape-rendering="crispEdges"/>
<g transform="translate(0,295.0) scale(1.180,1)"><text class="b3" y="0.0" font-size="17.6" x="593.2 602.5 606.8 616.5">0.00</text></g>
<rect x="686.9" y="287.8" width="10.9" height="1.7" fill="#000" shape-rendering="crispEdges"/>
<polygon fill="#000" points="742.5,282.2 742.5,294.9 740.4,294.9 740.4,286.1 737.1,286.1 737.1,284.7 740.7,282.2"/>
<polygon fill="#000" points="192.1,97.1 192.1,108.5 190.1,108.5 190.1,100.3 187.5,100.3 187.5,98.9 190.4,97.1"/>
<path d="M173.8 100.3L182.4 107.5M173.8 107.5L182.4 100.3" stroke="#000" stroke-width="1.8" fill="none"/>
<path d="M577.0 428.2L585.4 436.0M577.0 436.0L585.4 428.2" stroke="#000" stroke-width="1.8" fill="none"/>
<polygon fill="#000" points="594.6,426.1 594.6,437.4 592.6,437.4 592.6,429.3 590.0,429.3 590.0,427.9 592.9,426.1"/>
<g transform="translate(0,346.0) scale(1.180,1)"><text class="b3" y="0.0" font-size="17.6" x="592.1 601.4 605.5 614.3 622.8">0.006</text></g>
<rect x="687.1" y="339.8" width="10.7" height="1.7" fill="#000" shape-rendering="crispEdges"/>
</svg>
</body></html>
